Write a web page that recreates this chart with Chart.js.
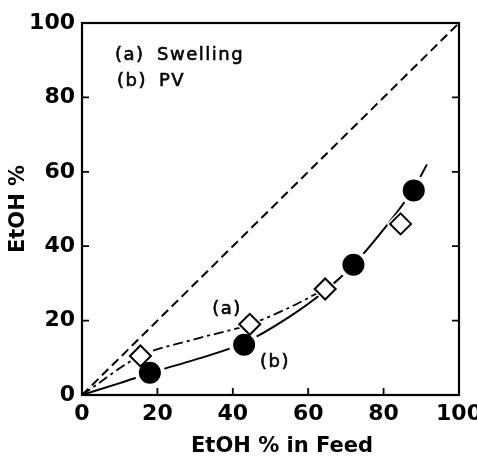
<!DOCTYPE html>
<html>
<head>
<meta charset="utf-8">
<script src="https://cdn.jsdelivr.net/npm/chart.js@4.4.0/dist/chart.umd.min.js"></script>
<style>
  html, body { margin: 0; padding: 0; background: #fff; }
  #wrap { width: 477px; height: 458px; }
</style>
</head>
<body>
<div id="wrap"><canvas id="chart"></canvas></div>
<script>
// --- Chart Data ---
const pvFeed = [18, 43, 72, 88];
const pvEtoh = [6, 13.5, 35, 55];
const swFeed = [15.5, 44.5, 64.5, 84.5];
const swEtoh = [10.5, 19, 28.5, 46];
// curves
const curveBFeed = [0, 10, 20, 30, 43, 55, 64.5, 72, 80, 88, 91.5];
const curveBEtoh = [0, 3.2, 6.5, 9.5, 14, 21, 28, 35, 44.5, 55.5, 62];
const curveAFeed = [0, 15.5, 30, 44.5, 55, 64.5];
const curveAEtoh = [0, 10.5, 15, 19, 23.5, 28.5];
const diagFeed = [0, 100];
const diagEtoh = [0, 100];
const tickValues = [0, 20, 40, 60, 80, 100];
const xTitle = 'EtOH % in Feed';

const toXY = (xs, ys) => xs.map((x, i) => ({ x: x, y: ys[i] }));
const FONT = 'DejaVu Sans';

// inner ticks, frame and text labels
const decorPlugin = {
  id: 'decor',
  afterDraw(chart) {
    const ctx = chart.ctx;
    const a = chart.chartArea;
    const xs = chart.scales.x, ys = chart.scales.y;
    ctx.save();
    ctx.strokeStyle = '#000';
    ctx.lineWidth = 2.2;
    ctx.strokeRect(a.left, a.top, a.right - a.left, a.bottom - a.top);
    ctx.lineWidth = 1.8;
    ctx.beginPath();
    tickValues.slice(1, -1).forEach(v => {
      const px = xs.getPixelForValue(v);
      ctx.moveTo(px, a.bottom); ctx.lineTo(px, a.bottom - 7);
      const py = ys.getPixelForValue(v);
      ctx.moveTo(a.left, py); ctx.lineTo(a.left + 7, py);
      ctx.moveTo(a.right, py); ctx.lineTo(a.right - 7, py);
    });
    ctx.stroke();

    // x axis title (sits a little right of the plot centre in the original)
    ctx.fillStyle = '#000';
    ctx.font = 'bold 21px ' + FONT;
    ctx.textAlign = 'center';
    ctx.textBaseline = 'middle';
    ctx.fillText(xTitle, 282, 447);

    ctx.font = '18px ' + FONT;
    ctx.letterSpacing = '1.5px';
    ctx.lineWidth = 0.6;
    const label = (t, x, y) => { ctx.fillText(t, x, y); ctx.strokeText(t, x, y); };
    ctx.textAlign = 'left';
    label('(a)', 115, 55);
    label('Swelling', 157, 55);
    label('(b)', 117, 81);
    label('PV', 159, 81);
    ctx.textAlign = 'center';
    label('(a)', 227, 309);
    label('(b)', 275, 362);
    ctx.restore();
  }
};

const ctx = document.getElementById('chart').getContext('2d');
const chart = new Chart(ctx, {
  type: 'scatter',
  data: {
    datasets: [
      {
        label: 'diagonal',
        data: toXY(diagFeed, diagEtoh),
        showLine: true,
        order: 3,
        borderColor: '#000',
        borderWidth: 2,
        borderDash: [9, 5],
        pointRadius: 0
      },
      {
        label: 'curve a',
        data: toXY(curveAFeed, curveAEtoh),
        showLine: true,
        order: 3,
        borderColor: '#000',
        borderWidth: 1.8,
        borderDash: [10, 4, 3, 4],
        cubicInterpolationMode: 'monotone',
        pointRadius: 0
      },
      {
        label: 'curve b',
        data: toXY(curveBFeed, curveBEtoh),
        showLine: true,
        order: 3,
        borderColor: '#000',
        borderWidth: 2,
        cubicInterpolationMode: 'monotone',
        pointRadius: 0
      },
      {
        label: 'halo a',
        data: toXY(swFeed, swEtoh),
        order: 1,
        pointStyle: 'rectRot',
        pointRadius: 14,
        backgroundColor: '#fff',
        borderWidth: 0
      },
      {
        label: '(a) Swelling',
        data: toXY(swFeed, swEtoh),
        order: 0,
        pointStyle: 'rectRot',
        pointRadius: 10.5,
        backgroundColor: '#fff',
        borderColor: '#000',
        borderWidth: 2
      },
      {
        label: '(b) PV',
        data: toXY(pvFeed, pvEtoh),
        order: 0,
        pointStyle: 'circle',
        pointRadius: 13,
        backgroundColor: '#000',
        borderColor: '#fff',
        borderWidth: 4
      }
    ]
  },
  options: {
    responsive: true,
    maintainAspectRatio: false,
    animation: false,
    layout: { padding: { top: 23, right: 18, left: 0, bottom: 0 } },
    plugins: {
      legend: { display: false },
      tooltip: { enabled: false }
    },
    scales: {
      x: {
        type: 'linear',
        min: 0, max: 100,
        afterFit: s => { s.height = 63; s.paddingLeft = 0; s.paddingRight = 0; },
        afterBuildTicks: s => { s.ticks = tickValues.map(v => ({ value: v })); },
        grid: { display: false, drawTicks: false },
        border: { display: false },
        ticks: { color: '#000', padding: 6, maxRotation: 0, font: { family: FONT, size: 22, weight: 'bold' } },
        title: { display: false }
      },
      y: {
        type: 'linear',
        min: 0, max: 100,
        afterFit: s => { s.width = 82; s.paddingTop = 0; s.paddingBottom = 0; },
        afterBuildTicks: s => { s.ticks = tickValues.map(v => ({ value: v })); },
        grid: { display: false, drawTicks: false },
        border: { display: false },
        ticks: { color: '#000', padding: 7, font: { family: FONT, size: 22, weight: 'bold' } },
        title: { display: true, text: 'EtOH %', color: '#000', padding: { top: 6, bottom: 0 }, font: { family: FONT, size: 21, weight: 'bold' } }
      }
    }
  },
  plugins: [decorPlugin]
});
</script>
</body>
</html>
